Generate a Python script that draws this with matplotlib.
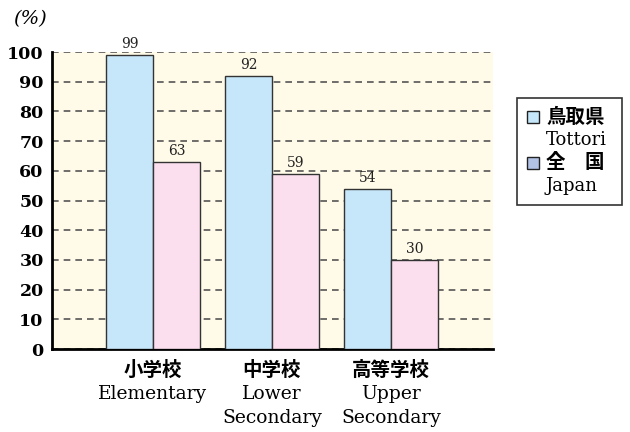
import matplotlib
matplotlib.use('Agg')
import matplotlib.pyplot as plt
from matplotlib.patches import Rectangle
import numpy as np

#------------------------------------------------------------------------------
# DATA

cat_jp = ['小学校', '中学校', '高等学校']
cat_en = ['Elementary', 'Lower\nSecondary', 'Upper\nSecondary']
tottori = [99, 92, 54]
japan = [63, 59, 30]
series_jp = ['鳥取県', '全　国']
series_en = ['Tottori', 'Japan']
yticks = [0, 10, 20, 30, 40, 50, 60, 70, 80, 90, 100]

#------------------------------------------------------------------------------
# STYLE

c_tot = '#c6e7f9'
c_jpn = '#fbdfee'
c_leg2 = '#b3c3e6'
c_bg = '#fffbe8'
jp_font = 'Noto Sans CJK JP'
serif = 'DejaVu Serif'

fig = plt.figure(figsize=(6.3, 4.32), dpi=100)
ax = fig.add_axes([0.0825, 0.192, 0.7, 0.6876])
ax.set_facecolor(c_bg)

x = np.arange(len(cat_jp))
w = 0.395
b1 = ax.bar(x - w/2, tottori, w, color=c_tot, edgecolor='#333333', linewidth=1.0, zorder=3)
b2 = ax.bar(x + w/2, japan, w, color=c_jpn, edgecolor='#333333', linewidth=1.0, zorder=3)

for rects, vals in ((b1, tottori), (b2, japan)):
    for r, v in zip(rects, vals):
        ax.text(r.get_x() + r.get_width()/2, v + 1.2, str(v), ha='center', va='bottom',
                fontsize=10, family=serif, color='#222222')

ax.set_xlim(-0.849, 2.857)
ax.set_ylim(0, 100)
ax.set_yticks(yticks)
ax.set_yticklabels([str(t) for t in yticks], family=serif, fontsize=12.5, fontweight='bold')
ax.set_xticks([])
ax.yaxis.grid(True, linestyle=(0, (4, 3)), color='#555555', linewidth=1.2, zorder=1)
ax.tick_params(axis='y', length=0, pad=6)

for s in ['top', 'right']:
    ax.spines[s].set_visible(False)
ax.spines['left'].set_linewidth(2)
ax.spines['bottom'].set_linewidth(2)

# category labels
for xi, jp, en in zip(x, cat_jp, cat_en):
    ax.text(xi, -4.0, jp, ha='center', va='top', fontsize=14, family=jp_font,
            fontweight='bold')
    ax.text(xi, -12.0, en, ha='center', va='top', fontsize=13.5, family=serif,
            linespacing=1.45)

fig.text(0.048, 0.955, '(%)', fontsize=14, family=serif, style='italic', va='center', ha='center')

# legend box
fig.patches.append(Rectangle((517/630, 1 - 205/432), 105/630, 107/432, transform=fig.transFigure,
                             facecolor='white', edgecolor='#333333', linewidth=1.2))
leg_cols = [c_tot, c_leg2]
for i, (jp, en, col) in enumerate(zip(series_jp, series_en, leg_cols)):
    y0 = 117 + i * 46
    fig.patches.append(Rectangle((527/630, 1 - (y0 + 6)/432), 12/630, 12/432, transform=fig.transFigure,
                                 facecolor=col, edgecolor='#222222', linewidth=1.0))
    fig.text(546/630, 1 - y0/432, jp, fontsize=14, family=jp_font, fontweight='bold', va='center')
    fig.text(546/630, 1 - (y0 + 23)/432, en, fontsize=13, family=serif, va='center')

fig.savefig('out.png', dpi=100)
